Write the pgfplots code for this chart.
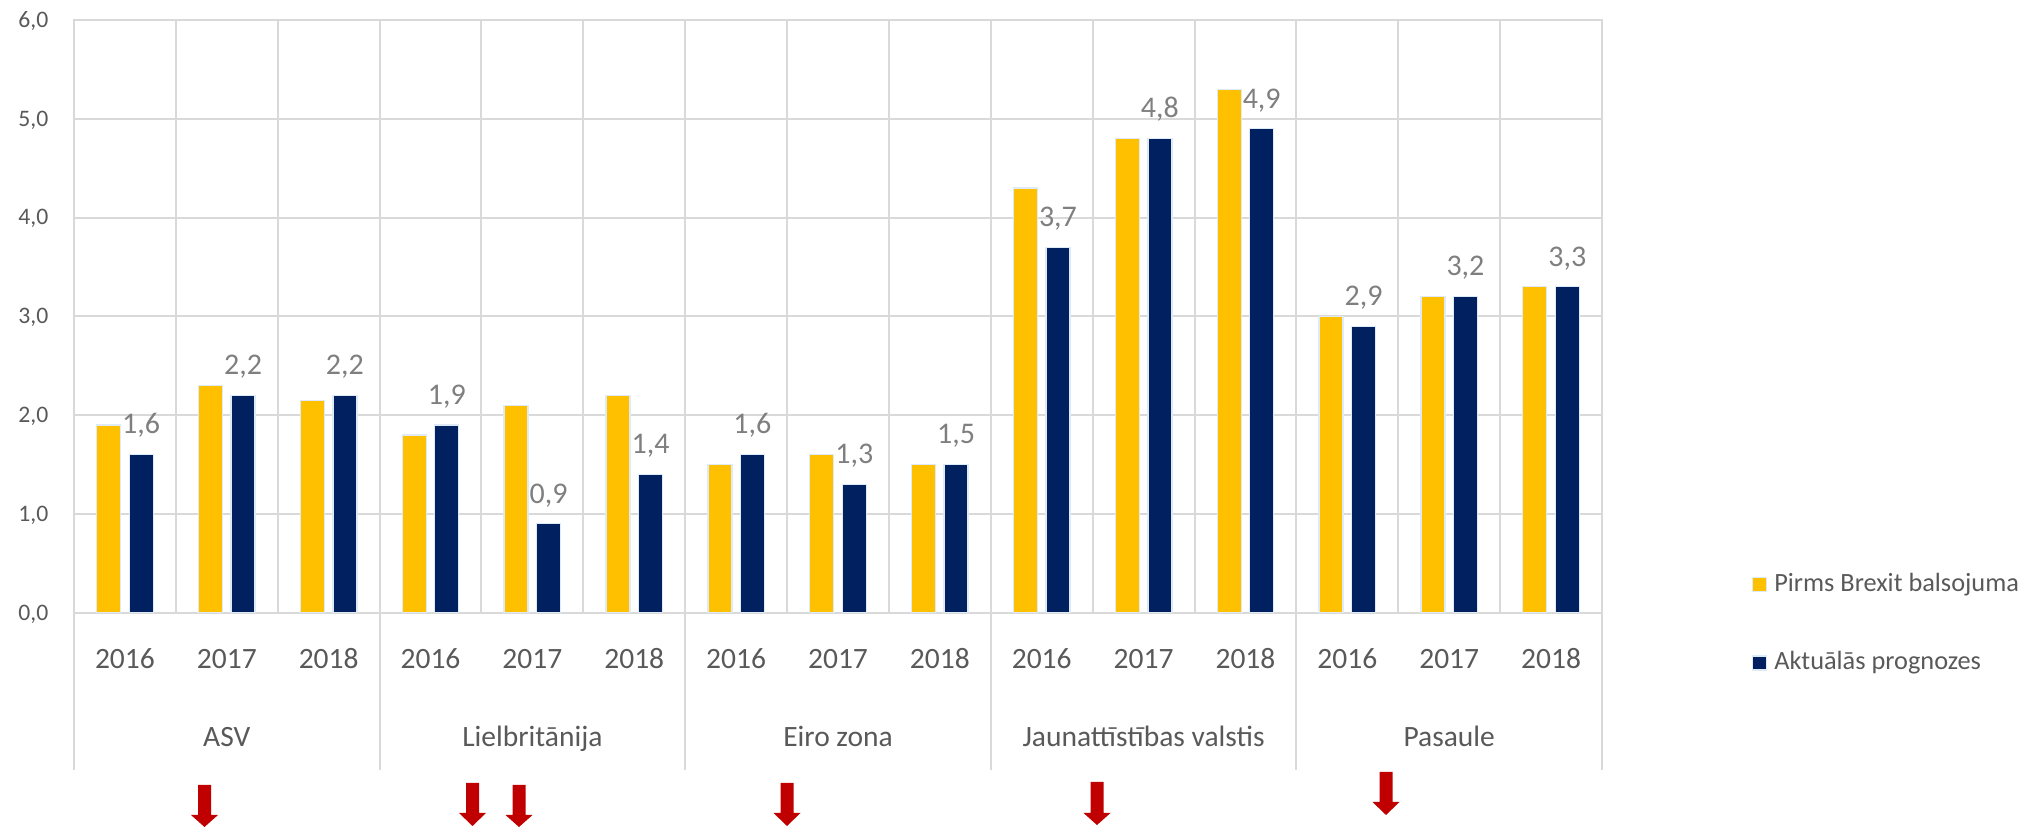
\documentclass[border=0pt]{standalone}
\usepackage{fontspec}
\setmainfont{Carlito}
\usepackage{pgfplots}
\usepackage{pgfplotstable}
\pgfplotsset{compat=1.18}

\definecolor{barYellow}{HTML}{FFC000}
\definecolor{barNavy}{HTML}{002060}
\definecolor{gridgray}{HTML}{D9D9D9}
\definecolor{textgray}{HTML}{595959}
\definecolor{labelgray}{HTML}{7F7F7F}
\definecolor{arrowred}{HTML}{C00000}
\definecolor{barborder}{HTML}{DEEBF7}

\newcommand{\axfont}{\fontsize{8.85pt}{10pt}\selectfont}
\newcommand{\tickfont}{\fontsize{7.1pt}{8pt}\selectfont}
\newcommand{\legfont}{\fontsize{7.9pt}{9pt}\selectfont}
\newcommand{\lblfont}{\fontsize{9pt}{10pt}\selectfont}

\newcommand{\redarrow}[4]{%
  \fill[arrowred] ({#1-6.5},{#2}) -- ({#1+6.5},{#2}) -- ({#1+6.5},{#3}) -- ({#1+13.5},{#3})
    -- ({#1},{#4}) -- ({#1-13.5},{#3}) -- ({#1-6.5},{#3}) -- cycle;}

% Pirms Brexit balsojuma
\pgfplotstableread{
x y
0 1.9
1 2.3
2 2.15
3 1.8
4 2.1
5 2.2
6 1.5
7 1.6
8 1.5
9 4.3
10 4.8
11 5.3
12 3.0
13 3.2
14 3.3
}\before

% Aktualas prognozes
\pgfplotstableread{
x y
0 1.6
1 2.2
2 2.2
3 1.9
4 0.9
5 1.4
6 1.6
7 1.3
8 1.5
9 3.7
10 4.8
11 4.9
12 2.9
13 3.2
14 3.3
}\current

\begin{document}
\begin{tikzpicture}
\path[use as bounding box] (-22.2pt,-66.99pt) rectangle (588.9pt,183.81pt);
\begin{axis}[
  at={(0,0)}, anchor=south west,
  scale only axis, width=458.4pt, height=177.8pt,
  xmin=-0.5, xmax=14.5, ymin=0, ymax=6,
  ybar=2.55pt, bar width=7.2pt,
  xtick={0,...,14},
  xticklabels={2016,2017,2018,2016,2017,2018,2016,2017,2018,2016,2017,2018,2016,2017,2018},
  ytick={0,1,2,3,4,5,6},
  minor xtick={0.5,1.5,...,13.5},
  xminorgrids, ymajorgrids,
  grid style={draw=gridgray, line width=0.6pt},
  minor grid style={draw=gridgray, line width=0.6pt},
  axis line style={draw=gridgray, line width=0.6pt},
  major tick length=0pt, minor tick length=0pt,
  tick style={draw=none},
  clip=false,
  xticklabel style={anchor=base, inner sep=0pt, yshift=-16.7pt, font=\axfont, text=textgray},
  yticklabel style={anchor=base east, inner sep=0pt, xshift=-7.5pt, yshift=-2.2pt, font=\tickfont, text=textgray},
  /pgf/number format/fixed,
  /pgf/number format/fixed zerofill,
  /pgf/number format/precision=1,
  /pgf/number format/use comma,
  /pgf/number format/assume math mode=true,
  legend style={draw=none, fill=none, at={(axis description cs:1.0975,-0.0186)}, anchor=west,
    inner sep=0pt, row sep=16.4pt, column sep=2.2pt, font=\legfont, text=textgray,
    nodes={inner sep=0pt, text height=5.5pt, text depth=1.6pt}},
  legend cell align=left,
  legend image code/.code={\fill[#1] (0pt,-2.1pt) rectangle (4.2pt,2.1pt);},
]
\addplot[fill=barYellow, draw=barborder, line width=0.4pt] table[x=x,y=y] {\before};
\addlegendentry{Pirms Brexit balsojuma}
\addplot[fill=barNavy, draw=barborder, line width=0.4pt,
  nodes near coords,
  every node near coord/.append style={anchor=south, inner sep=0pt, text depth=0pt, yshift=6pt, font=\lblfont, text=labelgray}]
  table[x=x,y=y] {\current};
\addlegendentry{Aktuālās prognozes}

\pgfplotsinvokeforeach{-0.5,2.5,5.5,8.5,11.5,14.5}{
  \draw[gridgray, line width=0.6pt] (axis cs:#1,0) -- ([yshift=-47.2pt]axis cs:#1,0);
}
\node[anchor=base, inner sep=0pt, font=\axfont, text=textgray] at ([yshift=-40.1pt]axis cs:1,0) {ASV};
\node[anchor=base, inner sep=0pt, font=\axfont, text=textgray] at ([yshift=-40.1pt]axis cs:4,0) {Lielbritānija};
\node[anchor=base, inner sep=0pt, font=\axfont, text=textgray] at ([yshift=-40.1pt]axis cs:7,0) {Eiro zona};
\node[anchor=base, inner sep=0pt, font=\axfont, text=textgray] at ([yshift=-40.1pt]axis cs:10,0) {Jaunattīstības valstis};
\node[anchor=base, inner sep=0pt, font=\axfont, text=textgray] at ([yshift=-40.1pt]axis cs:13,0) {Pasaule};
\end{axis}
\begin{scope}[x=0.3pt,y=0.3pt]
\redarrow{130.5}{-172.3}{-202.3}{-214.3}
\redarrow{398.5}{-170.3}{-200.3}{-213.3}
\redarrow{445}{-172.3}{-202.3}{-214.3}
\redarrow{713}{-170.3}{-200.3}{-213.3}
\redarrow{1023}{-169.3}{-200.3}{-212.3}
\redarrow{1312}{-159.3}{-189.3}{-202.3}
\end{scope}
\end{tikzpicture}
\end{document}
